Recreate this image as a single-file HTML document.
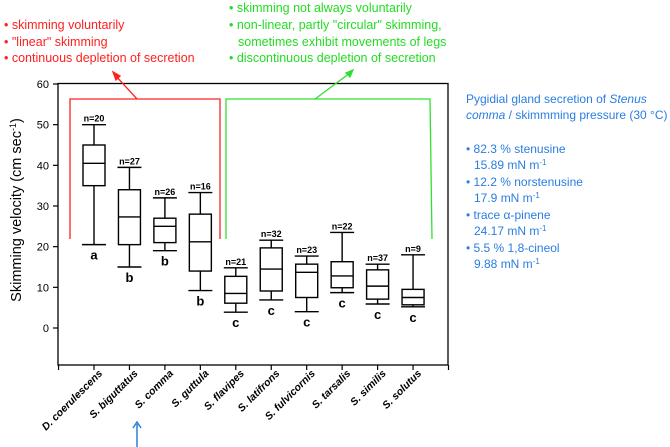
<!DOCTYPE html>
<html><head><meta charset="utf-8"><style>
html,body{margin:0;padding:0;background:#fff;}
svg{display:block;font-family:"Liberation Sans",sans-serif;}
</style></head><body>
<svg id="chart" width="670" height="447" viewBox="0 0 670 447" xmlns="http://www.w3.org/2000/svg">
<g fill="#ff2020" font-size="12.5">
<text x="4" y="29">• skimming voluntarily</text>
<text x="4" y="46">• "linear" skimming</text>
<text x="4" y="62">• continuous depletion of secretion</text>
</g>
<g fill="#22dd22" font-size="12.5">
<text x="229" y="12">• skimming not always voluntarily</text>
<text x="229" y="29">• non-linear, partly "circular" skimming,</text>
<text x="238" y="46">sometimes exhibit movements of legs</text>
<text x="229" y="62">• discontinuous depletion of secretion</text>
</g>
<g fill="#2a7de1" font-size="12">
<text x="466" y="103">Pygidial gland secretion of <tspan font-style="italic">Stenus</tspan></text>
<text x="466" y="119"><tspan font-style="italic">comma</tspan> / skimmming pressure (30 °C)</text>
<text x="466" y="153">• 82.3 % stenusine</text>
<text x="474" y="169">15.89 mN m<tspan font-size="8" dy="-4">-1</tspan></text>
<text x="466" y="186">• 12.2 % norstenusine</text>
<text x="474" y="202">17.9 mN m<tspan font-size="8" dy="-4">-1</tspan></text>
<text x="466" y="219">• trace α-pinene</text>
<text x="474" y="235">24.17 mN m<tspan font-size="8" dy="-4">-1</tspan></text>
<text x="466" y="252">• 5.5 % 1,8-cineol</text>
<text x="474" y="268">9.88 mN m<tspan font-size="8" dy="-4">-1</tspan></text>
</g>
<rect x="58" y="83.5" width="390" height="281.5" fill="none" stroke="#000" stroke-width="1.3"/>
<g fill="none" stroke="#ff2020" stroke-width="1.3">
<polyline points="70,239 70,99 220,99 220,239"/>
<line x1="137" y1="99" x2="115" y2="75"/>
<polygon points="113,72 120,76 116,80" fill="#ff2020"/>
</g>
<g fill="none" stroke="#33dd33" stroke-width="1.3">
<polyline points="226,239 226,99 430,99 432,239"/>
<line x1="315" y1="99" x2="350" y2="73"/>
<polygon points="353,70 346,73 350,77" fill="#33dd33"/>
</g>
<g stroke="#2a7de1" stroke-width="1.5" fill="none">
<line x1="137" y1="447" x2="137" y2="424"/>
<polyline points="133,428 137,422 141,428"/>
</g>
<text transform="translate(21,210) rotate(-90)" text-anchor="middle" font-size="14.5">Skimming velocity (cm sec<tspan font-size="9" dy="-5">-1</tspan><tspan dy="5">)</tspan></text>
<g id="yaxis"></g>
<g id="xaxis"></g>
<g id="boxes"></g>
</svg>
<script>
const categories=["D. coerulescens","S. biguttatus","S. comma","S. guttula","S. flavipes","S. latifrons","S. fulvicornis","S. tarsalis","S. similis","S. solutus"];
const whiskerHigh=[50,39.5,32,33.3,14.8,21.6,17.7,23.5,15.7,18.0];
const q3=[45,34,27,28,12.7,19.7,15.7,16.3,14.3,9.5];
const medians=[40.5,27.3,25,21.2,8.5,14.5,13.7,12.8,10.3,7.5];
const q1=[35,20.5,21,14,6.1,9.1,7.5,9.9,7.1,5.7];
const whiskerLow=[20.5,15,19,9.2,3.9,6.9,4.0,8.7,5.9,5.2];
const nLabels=["n=20","n=27","n=26","n=16","n=21","n=32","n=23","n=22","n=37","n=9"];
const groups=["a","b","b","b","c","c","c","c","c","c"];
const yTicks=[0,10,20,30,40,50,60];
const NS="http://www.w3.org/2000/svg";
const y=v=>328-v*(244/60);
const x=i=>94+i*35.45;
function mk(tag,attrs,parent,text){const e=document.createElementNS(NS,tag);for(const k in attrs)e.setAttribute(k,attrs[k]);if(text!==undefined)e.textContent=text;parent.appendChild(e);return e;}
const ya=document.getElementById('yaxis');
yTicks.forEach(t=>{
 const l=mk('line',{x1:53,x2:58,y1:y(t),y2:y(t),stroke:'#000','stroke-width':1.2},ya);
 
 
 const tx=mk('text',{x:49,y:y(t)+4,'text-anchor':'end','font-size':11},ya,String(t));
 
 
});
const xa=document.getElementById('xaxis');
for(let i=-1;i<=categories.length;i++){
 const l=mk('line',{x1:x(i),x2:x(i),y1:365,y2:370,stroke:'#000','stroke-width':1.2},xa);
 
 
}
categories.forEach((c,i)=>{
 const t=mk('text',{transform:`translate(${x(i)+9},${374}) rotate(-45)`,'text-anchor':'end','font-size':10.5,'font-weight':'bold','font-style':'italic'},xa,c);
 
 
});
const bx=document.getElementById('boxes');
categories.forEach((c,i)=>{
 const g=mk('g',{stroke:'#000','stroke-width':1.4,fill:'none'},bx);
 
 
 const cx=x(i),w=22,cw=12;
 mk('line',{x1:cx,x2:cx,y1:y(whiskerHigh[i]),y2:y(q3[i])},g);
 mk('line',{x1:cx,x2:cx,y1:y(q1[i]),y2:y(whiskerLow[i])},g);
 mk('line',{x1:cx-cw,x2:cx+cw,y1:y(whiskerHigh[i]),y2:y(whiskerHigh[i])},g);
 mk('line',{x1:cx-cw,x2:cx+cw,y1:y(whiskerLow[i]),y2:y(whiskerLow[i])},g);
 mk('rect',{x:cx-w/2,y:y(q3[i]),width:w,height:y(q1[i])-y(q3[i])},g);
 mk('line',{x1:cx-w/2,x2:cx+w/2,y1:y(medians[i]),y2:y(medians[i])},g);
 const n=mk('text',{x:cx,y:y(whiskerHigh[i])-3,'text-anchor':'middle','font-size':9,'font-weight':'bold',fill:'#000',stroke:'none'},bx,nLabels[i]);
 
 
 const gl=mk('text',{x:cx,y:y(whiskerLow[i])+15,'text-anchor':'middle','font-size':13,'font-weight':'bold',fill:'#000'},bx,groups[i]);
 
 
});
</script>
</body></html>
